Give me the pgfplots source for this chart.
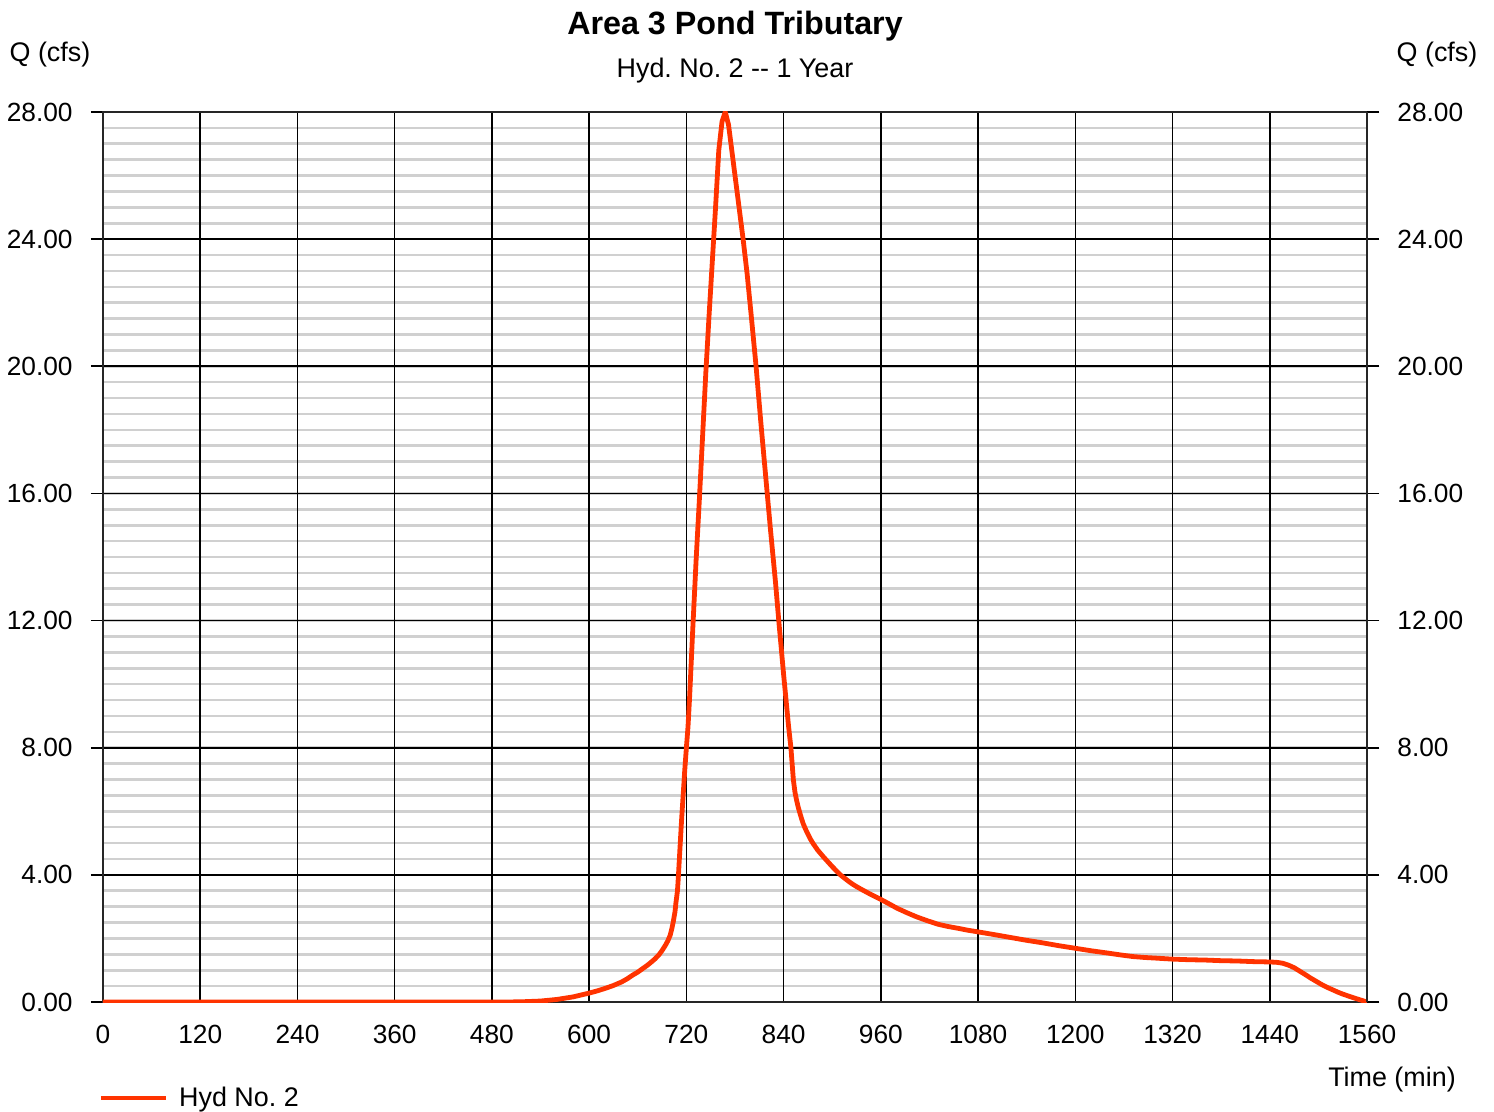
\documentclass[border=0pt]{standalone}
\usepackage{fontspec}
\setmainfont{Liberation Sans}
\usepackage{pgfplots}
\pgfplotsset{compat=1.18}
\definecolor{hyd}{RGB}{255,51,0}
\definecolor{minorgrid}{RGB}{208,208,208}
\pgfplotstableread{
t q
0 0
500 0
520 0.01
540 0.03
560 0.08
580 0.16
600 0.28
610 0.35
620 0.43
630 0.52
640 0.63
647 0.73
654 0.85
660 0.94
666 1.05
671 1.14
675 1.22
681 1.35
686 1.48
690 1.62
694 1.78
697 1.92
700 2.1
702 2.3
704 2.55
706 2.85
707 3.1
709 3.5
710 3.9
712 4.8
714 5.7
716 6.5
718 7.3
720 8.0
722 8.66
724 9.6
728 11.8
732 13.9
736 15.8
740 17.8
744 19.8
748 21.6
752 23.3
756 25.0
760 26.8
764 27.7
768 28.0
772 27.6
776 26.8
780 26.0
785 25.0
790 24.0
795 22.9
800 21.6
806 20.0
812 18.2
818 16.5
824 14.8
830 13.2
834 12.0
840 10.3
846 8.7
849 8.0
852 7.0
854 6.6
856 6.35
858 6.13
860 5.95
862 5.78
864 5.62
867 5.44
870 5.28
873 5.13
876 5.0
882 4.78
889 4.57
895 4.4
900 4.26
905 4.13
910 4.0
915 3.9
920 3.8
925 3.71
930 3.63
937 3.53
945 3.42
952 3.33
959 3.24
970 3.09
980 2.95
992 2.81
1004 2.68
1017 2.56
1030 2.45
1042 2.38
1055 2.32
1067 2.26
1079 2.21
1100 2.12
1120 2.03
1140 1.94
1160 1.86
1180 1.77
1200 1.69
1220 1.61
1240 1.54
1256 1.48
1271 1.43
1286 1.40
1300 1.38
1319 1.35
1340 1.33
1360 1.32
1380 1.30
1400 1.29
1420 1.27
1439 1.26
1448 1.25
1456 1.22
1463 1.16
1470 1.08
1477 0.97
1484 0.86
1490 0.76
1498 0.64
1504 0.55
1510 0.47
1518 0.38
1524 0.31
1530 0.25
1539 0.17
1545 0.12
1550 0.08
1555 0.04
1560 0.0
}\hydtwo
\newcommand\lbl{\fontsize{13.5}{16}\selectfont}
\newcommand\tlbl{\fontsize{13.2}{16}\selectfont}
\begin{document}
\frenchspacing
\begin{tikzpicture}
\pgfplotsset{
  base/.style={
    scale only axis, width=632bp, height=445bp,
    xmin=0, xmax=1560, ymin=0, ymax=28,
    xtick={0,120,...,1560},
    ytick={0,4,...,28},
    /pgf/number format/assume math mode=true,
    tick label style={font=\tlbl},
    yticklabel style={/pgf/number format/fixed, /pgf/number format/fixed zerofill, /pgf/number format/precision=2, inner sep=0pt},
    xticklabel style={/pgf/number format/set thousands separator={}, yshift=-2bp},
    tick align=outside,
    major tick length=6bp,
    minor tick length=0pt,
    x tick style={draw=none},
    y tick style={black, line width=0.8bp},
    axis line style={black!85, line width=0.9bp},
  }
}
% light grid every 0.5
\begin{axis}[
  scale only axis, width=632bp, height=445bp,
  xmin=0, xmax=1560, ymin=0, ymax=28,
  xtick=\empty,
  ytick={0.5,1,...,27.5},
  yticklabels={},
  ymajorgrids,
  major tick length=0pt,
  grid style={minorgrid, line width=1.3bp},
  axis line style={draw=none},
]
\addplot[draw=none] coordinates {(0,0)};
\end{axis}
\begin{axis}[base,
  name=main,
  grid=major,
  major grid style={black, line width=0.8bp},
  ytick pos=both,
  yticklabel pos=left,
  yticklabel shift=9bp,
  legend style={at={(0,0)}, anchor=west, xshift=-2.5bp, yshift=-48bp, draw=none, fill=none, inner sep=0pt,
    nodes={inner sep=0pt, font=\lbl}, column sep=5.5bp},
  legend image code/.code={\draw[#1] (0bp,0bp) -- (32.5bp,0bp);},
  legend cell align=left,
]
\addplot[hyd, line width=2.4bp, line join=round] table[x=t, y=q] {\hydtwo};
\addlegendentry{Hyd No. 2}
\coordinate (O) at (rel axis cs:0,0);
\end{axis}
\begin{axis}[base,
  axis x line=none,
  axis y line*=right,
  yticklabel pos=right,
  yticklabel shift=9bp,
]
\addplot[draw=none] coordinates {(0,0)};
\end{axis}
\node[font=\fontsize{16.2}{19}\selectfont\bfseries] at ([shift={(316bp,488bp)}]O) {Area 3 Pond Tributary};
\node[font=\lbl] at ([shift={(316bp,465.5bp)}]O) {Hyd. No. 2 -{}- 1 Year};
\node[font=\lbl] at ([shift={(-26.5bp,473.5bp)}]O) {Q (cfs)};
\node[font=\lbl] at ([shift={(667bp,473.5bp)}]O) {Q (cfs)};
\node[font=\lbl] at ([shift={(644.5bp,-39bp)}]O) {Time (min)};
\path[use as bounding box] ([shift={(-51.5bp,-55bp)}]O) rectangle ++(747bp,556bp);
\end{tikzpicture}
\end{document}
